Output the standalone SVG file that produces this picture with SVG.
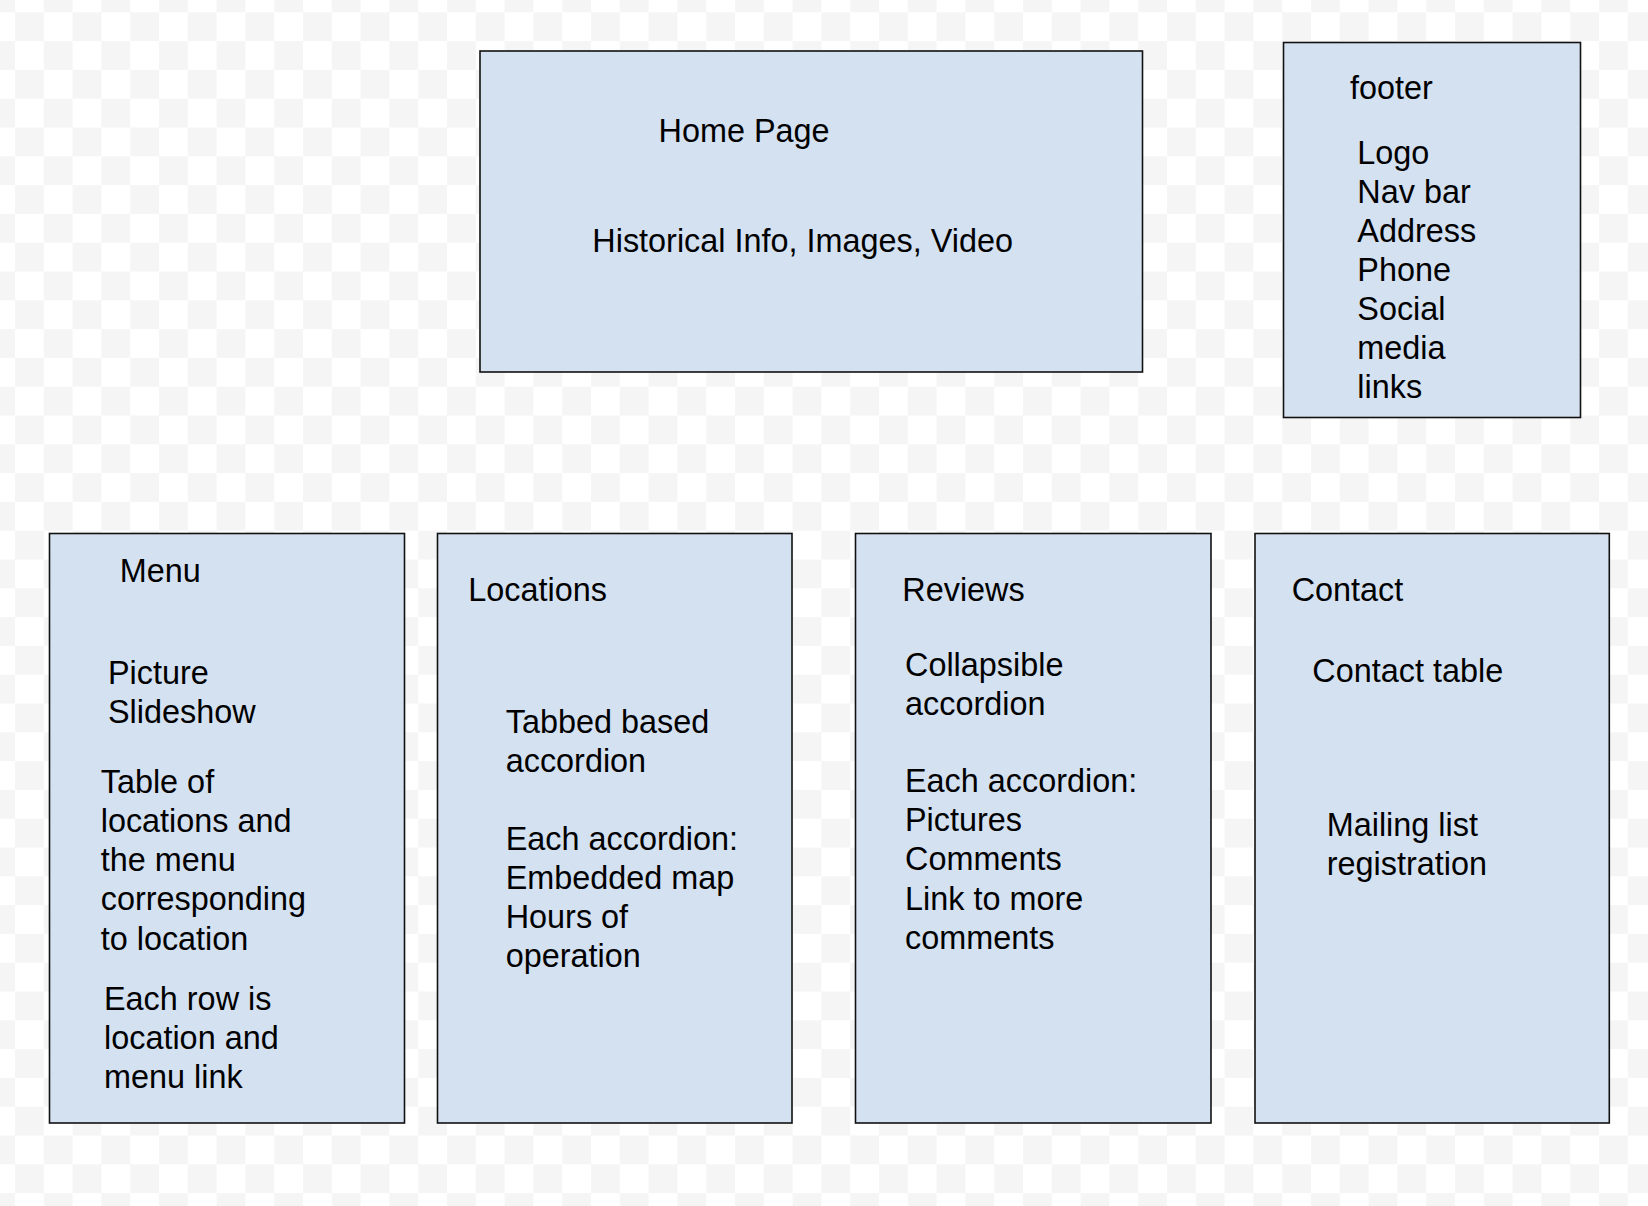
<svg xmlns="http://www.w3.org/2000/svg" width="1648" height="1206" viewBox="0 0 1648 1206">
  <defs>
    <pattern id="checker" patternUnits="userSpaceOnUse" x="15" y="12.3" width="57.6" height="57.6">
      <rect x="0" y="0" width="57.6" height="57.6" fill="#ffffff"/>
      <rect x="0" y="0" width="28.8" height="28.8" fill="#f5f5f5"/>
      <rect x="28.8" y="28.8" width="28.8" height="28.8" fill="#f5f5f5"/>
    </pattern>
  </defs>
  <style>
    .box { fill: #d4e1f1; stroke: #111111; stroke-width: 1.6; }
    .t { font-family: "Liberation Sans", Arial, sans-serif; font-size: 32.4px; fill: #000000; }
  </style>
  <rect x="0" y="0" width="1648" height="1206" fill="url(#checker)"/>

  <g id="connectors"></g>

  <g id="home">
    <rect class="box" x="480" y="51" width="662.5" height="321"/>
    <text class="t" x="658.5" y="142.2">Home Page</text>
    <text class="t" x="592.3" y="252.2">Historical Info, Images, Video</text>
  </g>

  <g id="footer">
    <rect class="box" x="1283.5" y="42.5" width="297" height="375"/>
    <text class="t" x="1350" y="98.8">footer</text>
    <text class="t" x="1357.3" y="163.8">Logo</text>
    <text class="t" x="1357.3" y="202.8">Nav bar</text>
    <text class="t" x="1357.3" y="241.8">Address</text>
    <text class="t" x="1357.3" y="280.8">Phone</text>
    <text class="t" x="1357.3" y="319.8">Social</text>
    <text class="t" x="1357.3" y="358.8">media</text>
    <text class="t" x="1357.3" y="397.8">links</text>
  </g>

  <g id="menu">
    <rect class="box" x="49.5" y="533.5" width="355" height="589.5"/>
    <text class="t" x="119.7" y="582.2">Menu</text>
    <text class="t" x="108" y="683.8">Picture</text>
    <text class="t" x="108" y="722.8">Slideshow</text>
    <text class="t" x="100.7" y="792.8">Table of</text>
    <text class="t" x="100.7" y="832">locations and</text>
    <text class="t" x="100.7" y="871.2">the menu</text>
    <text class="t" x="100.7" y="910.4">corresponding</text>
    <text class="t" x="100.7" y="949.6">to location</text>
    <text class="t" x="104" y="1009.8">Each row is</text>
    <text class="t" x="104" y="1048.9">location and</text>
    <text class="t" x="104" y="1088">menu link</text>
  </g>

  <g id="locations">
    <rect class="box" x="437.5" y="533.5" width="354.5" height="589.5"/>
    <text class="t" x="468.3" y="600.5">Locations</text>
    <text class="t" x="505.7" y="733.2">Tabbed based</text>
    <text class="t" x="505.7" y="772">accordion</text>
    <text class="t" x="505.7" y="849.5">Each accordion:</text>
    <text class="t" x="505.7" y="888.7">Embedded map</text>
    <text class="t" x="505.7" y="927.9">Hours of</text>
    <text class="t" x="505.7" y="967.1">operation</text>
  </g>

  <g id="reviews">
    <rect class="box" x="855.5" y="533.5" width="355.5" height="589.5"/>
    <text class="t" x="902.3" y="600.5">Reviews</text>
    <text class="t" x="905" y="675.5">Collapsible</text>
    <text class="t" x="905" y="714.5">accordion</text>
    <text class="t" x="905" y="792.2">Each accordion:</text>
    <text class="t" x="905" y="831.3">Pictures</text>
    <text class="t" x="905" y="870.4">Comments</text>
    <text class="t" x="905" y="909.5">Link to more</text>
    <text class="t" x="905" y="948.6">comments</text>
  </g>

  <g id="contact">
    <rect class="box" x="1255" y="533.5" width="354.3" height="589.5"/>
    <text class="t" x="1291.7" y="600.5">Contact</text>
    <text class="t" x="1312.3" y="681.5">Contact table</text>
    <text class="t" x="1326.7" y="836.2">Mailing list</text>
    <text class="t" x="1326.7" y="875">registration</text>
  </g>
</svg>
